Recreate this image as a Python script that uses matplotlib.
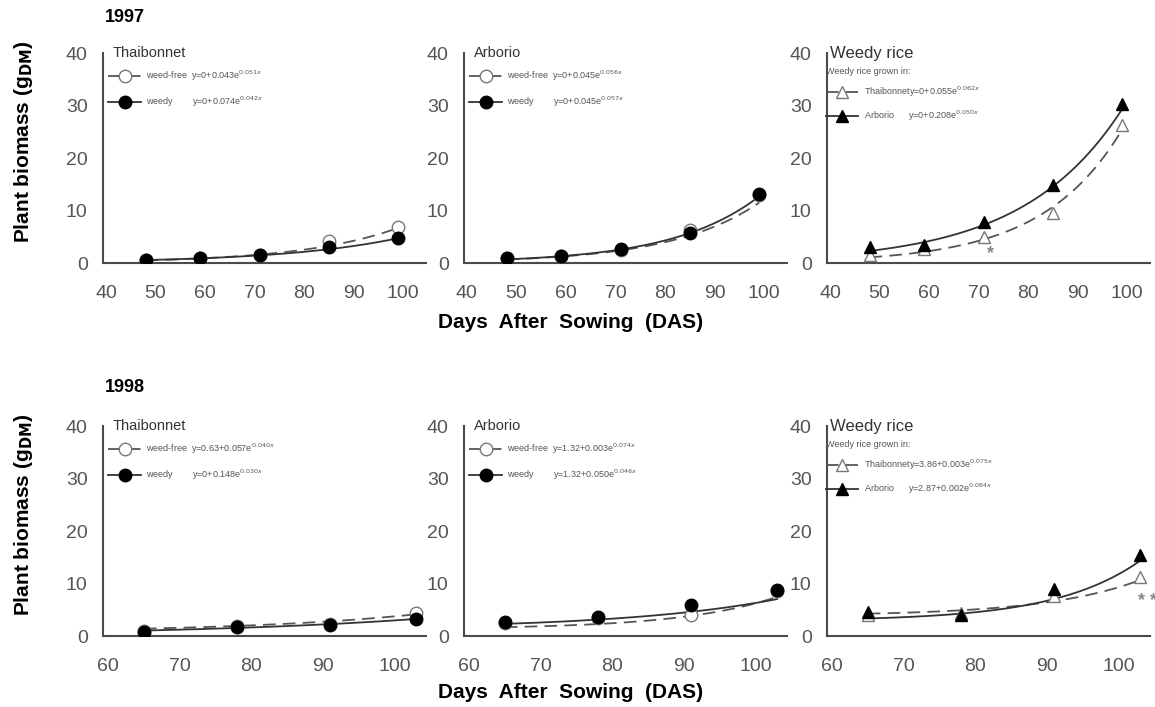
#!/usr/bin/env python3
"""Plant biomass of rice cultivars and weedy rice, 1997 and 1998."""

import numpy as np

import matplotlib
matplotlib.use("Agg")
import matplotlib.pyplot as plt
from matplotlib.lines import Line2D

plt.rcParams["font.family"] = ["Liberation Sans", "DejaVu Sans"]

# sampling dates (days after sowing)
das_1997 = [48, 59, 71, 85, 99]
das_1998 = [65, 78, 91, 103]
xticks_1997 = [40, 50, 60, 70, 80, 90, 100]
xticks_1998 = [60, 70, 80, 90, 100]

# 1997 biomass (g DM)
thai97_free = [0.5, 1.0, 1.6, 4.2, 6.8]
thai97_weedy = [0.5, 1.0, 1.5, 3.0, 4.8]
arb97_free = [1.0, 1.3, 2.5, 6.2, 13.0]
arb97_weedy = [1.0, 1.4, 2.6, 5.8, 13.2]
wr97_in_thai = [1.5, 2.6, 4.9, 9.5, 26.2]
wr97_in_arb = [3.0, 3.4, 7.8, 14.8, 30.2]

# 1998 biomass (g DM)
thai98_free = [1.0, 1.9, 2.3, 4.3]
thai98_weedy = [0.8, 1.8, 2.1, 3.2]
arb98_free = [2.4, 3.4, 4.0, 8.6]
arb98_weedy = [2.6, 3.7, 5.9, 8.7]
wr98_in_thai = [4.0, 4.3, 7.6, 11.2]
wr98_in_arb = [4.6, 4.0, 9.0, 15.4]

# fitted curves y = c + a*exp(b*x), as printed in the legends
fit97_thai_free = (0, 0.043, 0.051)
fit97_thai_weedy = (0, 0.074, 0.042)
fit97_arb_free = (0, 0.045, 0.056)
fit97_arb_weedy = (0, 0.045, 0.057)
fit97_wr_thai = (0, 0.055, 0.062)
fit97_wr_arb = (0, 0.208, 0.050)
fit98_thai_free = (0.63, 0.057, 0.040)
fit98_thai_weedy = (0, 0.148, 0.030)
fit98_arb_free = (1.32, 0.003, 0.074)
fit98_arb_weedy = (1.32, 0.050, 0.046)
fit98_wr_thai = (3.86, 0.003, 0.075)
fit98_wr_arb = (2.87, 0.002, 0.084)

# asterisks marking significant differences (x, y)
star97 = (72.5, 1.8, "*")
star98 = (104.0, 6.6, "* *")

AX_COLOR = "#4a4a4a"
TICK_COLOR = "#555555"

OPEN_CIRCLE = dict(marker="o", mfc="white", mec="#777777", ls=(0, (7, 4)), lc="#555555")
FILL_CIRCLE = dict(marker="o", mfc="black", mec="black", ls="-", lc="#333333")
OPEN_TRI = dict(marker="^", mfc="white", mec="#777777", ls=(0, (7, 4)), lc="#555555")
FILL_TRI = dict(marker="^", mfc="black", mec="black", ls="-", lc="#333333")


def fit_curve(x, fit):
    c, a, b = fit
    return c + a * np.exp(b * x)


def eq_label(name, fit):
    c, a, b = fit
    return f"{name}y={c:g}+{a:.3f}e$^{{{b:.3f}x}}$"


def draw_panel(ax, das, xlim, xticks, title, series, legend_title=None, title_size=10.5):
    handles, labels = [], []
    for vals, fit, name, st in series:
        xs = np.linspace(das[0], das[-1], 200)
        ax.plot(xs, fit_curve(xs, fit), color=st["lc"], ls=st["ls"], lw=1.3, zorder=2)
        ax.plot(das, vals, ls="none", marker=st["marker"], ms=9,
                mfc=st["mfc"], mec=st["mec"], mew=1.0, zorder=3)
        handles.append(Line2D([], [], color=st["lc"], ls=st["ls"], lw=1.3,
                              marker=st["marker"], ms=9, mfc=st["mfc"], mec=st["mec"]))
        labels.append(eq_label(name, fit))

    ax.set_xlim(*xlim)
    ax.set_ylim(0, 40)
    ax.set_xticks(xticks)
    ax.set_yticks([0, 10, 20, 30, 40])
    for side in ("top", "right"):
        ax.spines[side].set_visible(False)
    for side in ("left", "bottom"):
        ax.spines[side].set_color(AX_COLOR)
        ax.spines[side].set_linewidth(1.5)
    ax.tick_params(length=0, labelsize=14, labelcolor=TICK_COLOR)
    ax.tick_params(axis="x", pad=16)
    ax.tick_params(axis="y", pad=11)

    ax.text(0.03 if legend_title is None else 0.01, 1.0, title, transform=ax.transAxes,
            ha="left", va="center", fontsize=title_size, color="#333333")

    if legend_title is None:
        leg = ax.legend(handles, labels, loc="upper left", bbox_to_anchor=(0.0, 0.95),
                        frameon=False, fontsize=6.5, handlelength=3.6,
                        labelspacing=1.3, handletextpad=0.6, borderaxespad=0.2)
    else:
        leg = ax.legend(handles, labels, loc="upper left", bbox_to_anchor=(-0.02, 0.96),
                        frameon=False, fontsize=6.5, handlelength=3.6,
                        labelspacing=1.0, handletextpad=0.6, borderaxespad=0.2,
                        title=legend_title, title_fontsize=6.5, alignment="left")
    for t in leg.get_texts():
        t.set_color("#555555")
    if leg.get_title() is not None:
        leg.get_title().set_color("#555555")


def main() -> None:
    fig = plt.figure(figsize=(11.55, 7.07), dpi=100)

    lefts = [0.0892, 0.4017, 0.716]
    width = 0.2797
    height = 0.297
    top_axes = [fig.add_axes([l, 0.628, width, height]) for l in lefts]
    bot_axes = [fig.add_axes([l, 0.1004, width, height]) for l in lefts]

    xlim97 = (39.4, 104.6)
    xlim98 = (59.3, 104.4)

    draw_panel(top_axes[0], das_1997, xlim97, xticks_1997, "Thaibonnet", [
        (thai97_free, fit97_thai_free, "weed-free  ", OPEN_CIRCLE),
        (thai97_weedy, fit97_thai_weedy, "weedy        ", FILL_CIRCLE),
    ])
    draw_panel(top_axes[1], das_1997, xlim97, xticks_1997, "Arborio", [
        (arb97_free, fit97_arb_free, "weed-free  ", OPEN_CIRCLE),
        (arb97_weedy, fit97_arb_weedy, "weedy        ", FILL_CIRCLE),
    ])
    draw_panel(top_axes[2], das_1997, xlim97, xticks_1997, "Weedy rice", [
        (wr97_in_thai, fit97_wr_thai, "Thaibonnet", OPEN_TRI),
        (wr97_in_arb, fit97_wr_arb, "Arborio      ", FILL_TRI),
    ], legend_title="Weedy rice grown in:", title_size=12)

    draw_panel(bot_axes[0], das_1998, xlim98, xticks_1998, "Thaibonnet", [
        (thai98_free, fit98_thai_free, "weed-free  ", OPEN_CIRCLE),
        (thai98_weedy, fit98_thai_weedy, "weedy        ", FILL_CIRCLE),
    ])
    draw_panel(bot_axes[1], das_1998, xlim98, xticks_1998, "Arborio", [
        (arb98_free, fit98_arb_free, "weed-free  ", OPEN_CIRCLE),
        (arb98_weedy, fit98_arb_weedy, "weedy        ", FILL_CIRCLE),
    ])
    draw_panel(bot_axes[2], das_1998, xlim98, xticks_1998, "Weedy rice", [
        (wr98_in_thai, fit98_wr_thai, "Thaibonnet", OPEN_TRI),
        (wr98_in_arb, fit98_wr_arb, "Arborio      ", FILL_TRI),
    ], legend_title="Weedy rice grown in:", title_size=12)

    x, y, s = star97
    top_axes[2].text(x, y, s, ha="center", va="center", fontsize=13,
                     fontweight="bold", color="#888888")
    x, y, s = star98
    bot_axes[2].text(x, y, s, ha="center", va="center", fontsize=13,
                     fontweight="bold", color="#888888", clip_on=False)

    fig.text(0.091, 0.975, "1997", fontsize=13, fontweight="bold", va="center")
    fig.text(0.091, 0.452, "1998", fontsize=13, fontweight="bold", va="center")

    for yc in (1 - 142 / 707, 1 - 515 / 707):
        fig.text(0.02, yc, "Plant biomass (g$_{\\mathbf{DM}}$)", rotation=90,
                 ha="center", va="center", fontsize=15, fontweight="bold")
    for yc in (1 - 323 / 707, 1 - 692 / 707):
        fig.text(571 / 1155, yc, "Days  After  Sowing  (DAS)", ha="center",
                 va="center", fontsize=15, fontweight="bold")

    fig.savefig("out.png", dpi=100)
    plt.close(fig)


if __name__ == "__main__":
    main()
